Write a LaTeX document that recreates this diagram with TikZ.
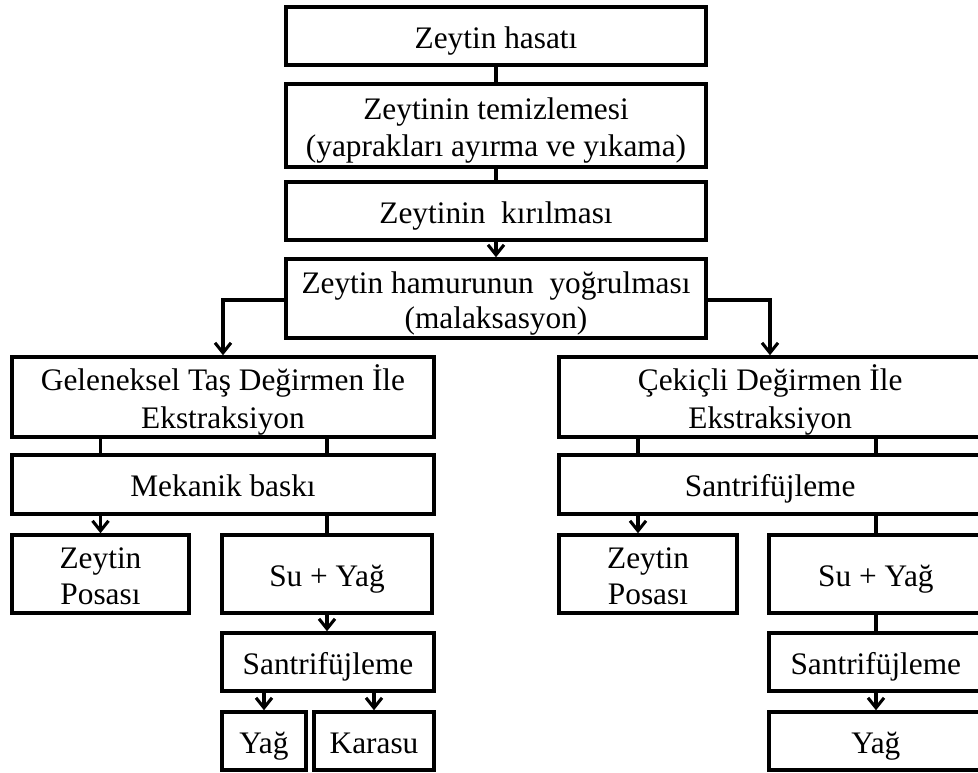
\documentclass[tikz,border=0pt]{standalone}
\usepackage{fontspec}
\setmainfont{Liberation Serif}
\usetikzlibrary{arrows.meta}
\newcommand{\flowbox}[7][]{%
  \node[box,minimum width={(#5-#3)*0.75pt},minimum height={(#6-#4)*0.75pt},#1] (#2) at ({(#3+#5)/2},{(#4+#6)/2}) {#7};}
\newcommand{\topstrut}{\rule{0pt}{24.6pt}}
\newcommand{\botstrut}{\rule[-6pt]{0pt}{0pt}}
\begin{document}
\begin{tikzpicture}[x=0.75pt,y=-0.75pt,
  box/.style={draw=black, line width=2.6pt, inner sep=0pt, align=center,
    font=\fontsize{23.5}{26}\selectfont},
  one/.style={text height=18.6pt, text depth=0pt},
  conn/.style={draw=black, line width=2.3pt},
  arr/.style={conn, -{Straight Barb[length=7.5pt,width=12pt]}}]
\clip (0,0) rectangle (978,772);
\fill[white] (0,0) rectangle (978,772);
% top column
\flowbox[one]{b1}{286}{7}{706}{65}{Zeytin hasatı}
\flowbox[font=\fontsize{23.5}{27.5}\selectfont]{b2}{286}{84}{706}{167}{\topstrut Zeytinin temizlemesi\\(yaprakları ayırma ve yıkama)\botstrut}
\flowbox[one]{b3}{286}{182}{706}{240}{Zeytinin~ kırılması}
\flowbox[font=\fontsize{23.5}{26}\selectfont]{b4}{286}{259}{706}{338}{\topstrut Zeytin hamurunun~ yoğrulması\\(malaksasyon)\botstrut}
% left branch
\flowbox[font=\fontsize{23.5}{28.5}\selectfont]{g}{12}{357}{434}{437}{\topstrut Geleneksel Taş Değirmen İle\\Ekstraksiyon\botstrut}
\flowbox[one]{m}{12}{455}{434}{514}{Mekanik baskı}
\flowbox[font=\fontsize{23.5}{27}\selectfont]{p1}{12}{535}{189}{613}{\topstrut Zeytin\\Posası\botstrut}
\flowbox[one]{s1}{222}{535}{432}{613}{Su + Yağ}
\flowbox[one]{s2}{222}{633}{434}{691}{Santrifüjleme}
\flowbox[one]{y1}{222}{712}{306}{770}{Yağ}
\flowbox[one]{k}{314}{712}{434}{770}{Karasu}
% right branch
\flowbox[font=\fontsize{23.5}{28.5}\selectfont]{c}{559}{357}{996}{437}{\topstrut\hspace*{-11pt}Çekiçli Değirmen İle\\\hspace*{-11pt}Ekstraksiyon\botstrut}
\flowbox[one]{sr}{559}{455}{996}{514}{\hspace*{-11pt}Santrifüjleme}
\flowbox[font=\fontsize{23.5}{27}\selectfont]{p2}{559}{535}{737}{613}{\topstrut Zeytin\\Posası\botstrut}
\flowbox[one]{s3}{769}{535}{996}{613}{\hspace*{-10pt}Su + Yağ}
\flowbox[one]{s4}{769}{633}{996}{691}{\hspace*{-10pt}Santrifüjleme}
\flowbox[one]{y2}{769}{712}{996}{770}{\hspace*{-10pt}Yağ}
% helper coordinates for off-centre connectors
\coordinate (xl) at (223,300);
\coordinate (xr) at (770,300);
\coordinate (xr1) at (638,0);
\coordinate (xr2) at (876,0);
% connectors, top column
\draw[conn] (b1) -- (b2);
\draw[conn] (b2) -- (b3);
\draw[arr] (b3) -- (b4);
\draw[arr] (b4.west |- xl) -| (g.north);
\draw[arr] (b4.east |- xr) -| (c.north -| xr);
% left branch
\draw[conn] (g.south -| p1) -- (m.north -| p1);
\draw[conn] (g.south -| s1) -- (m.north -| s1);
\draw[arr] (m.south -| p1) -- (p1.north);
\draw[conn] (m.south -| s1) -- (s1.north);
\draw[arr] (s1.south) -- (s2.north -| s1);
\draw[arr] (s2.south -| y1) -- (y1.north);
\draw[arr] (s2.south -| k) -- (k.north);
% right branch
\draw[conn] (c.south -| xr1) -- (sr.north -| xr1);
\draw[conn] (c.south -| xr2) -- (sr.north -| xr2);
\draw[arr] (sr.south -| xr1) -- (p2.north -| xr1);
\draw[conn] (sr.south -| xr2) -- (s3.north -| xr2);
\draw[conn] (s3.south -| xr2) -- (s4.north -| xr2);
\draw[arr] (s4.south -| xr2) -- (y2.north -| xr2);
\end{tikzpicture}
\end{document}
